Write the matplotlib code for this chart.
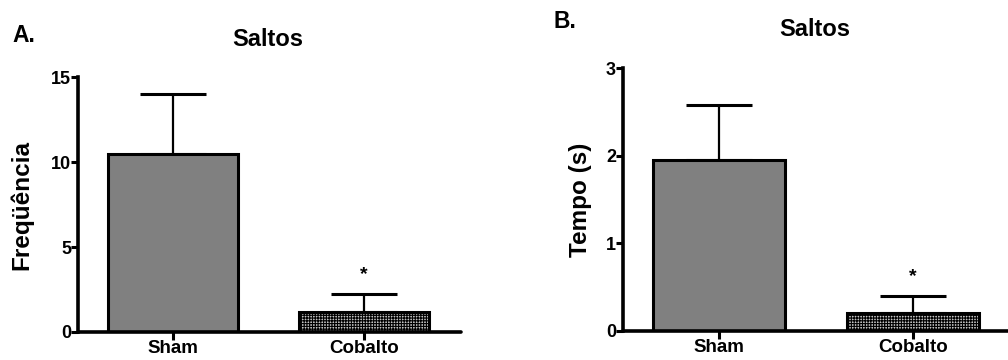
import numpy as np
import matplotlib
matplotlib.use('Agg')
import matplotlib.pyplot as plt

plt.rcParams['font.family'] = ['Liberation Sans', 'DejaVu Sans']
plt.rcParams['font.weight'] = 'bold'
plt.rcParams['axes.labelweight'] = 'bold'
plt.rcParams['hatch.linewidth'] = 0.8

grupos = ['Sham', 'Cobalto']

# A. Saltos - frequencia
freq_media = [10.5, 1.15]
freq_epm = [3.5, 1.1]

# B. Saltos - tempo (s)
tempo_media = [1.95, 0.2]
tempo_epm = [0.63, 0.2]

cor_barra = ['#808080', '#c4c4c4']
hachura = ['', '++++++']

fig = plt.figure(figsize=(10.08, 3.6), dpi=100)
ax1 = fig.add_axes([0.0774, 0.0778, 0.38, 0.708])
ax2 = fig.add_axes([0.618, 0.0806, 0.382, 0.730])


def painel(ax, media, epm, ylim, yticks, ylabel, xlim, label_x):
    x = np.arange(len(grupos))
    for i in range(len(grupos)):
        ax.bar(x[i], media[i], width=0.68, color=cor_barra[i], edgecolor='black',
               linewidth=2.2, hatch=hachura[i], zorder=2)
        ax.errorbar(x[i], media[i], yerr=[[0], [epm[i]]], fmt='none', ecolor='black',
                    elinewidth=1.6, capsize=24, capthick=2.2, zorder=1)
    # asterisco no cobalto
    ax.text(x[1], media[1] + epm[1] + (ylim[1] * 0.04), '*', ha='center', va='bottom',
            fontsize=14)
    ax.set_ylim(ylim)
    ax.set_xlim(xlim)
    ax.set_yticks(yticks)
    ax.set_xticks(x)
    ax.set_xticklabels(grupos, fontsize=13.5)
    ax.tick_params(axis='y', direction='out', length=5, width=2.2, labelsize=13, pad=0)
    ax.tick_params(axis='x', direction='out', length=6, width=2.2, pad=0)
    for lado in ['top', 'right']:
        ax.spines[lado].set_visible(False)
    for lado in ['left', 'bottom']:
        ax.spines[lado].set_linewidth(2.6)
    ax.spines['bottom'].set_capstyle('round')
    ax.set_ylabel(ylabel, fontsize=17.5, fontweight='bold')
    ax.yaxis.set_label_coords(label_x, 0.5)
    ax.set_facecolor('none')


painel(ax1, freq_media, freq_epm, (0, 15), [0, 5, 10, 15], 'Freqüência', (-0.495, 1.51), -0.117)
painel(ax2, tempo_media, tempo_epm, (0, 3), [0, 1, 2, 3], 'Tempo (s)', (-0.497, 1.49), -0.081)

fig.text(268 / 1008, 1 - 39 / 360, 'Saltos', ha='center', va='center', fontsize=17)
fig.text(815 / 1008, 1 - 30 / 360, 'Saltos', ha='center', va='center', fontsize=17)
fig.text(24 / 1008, 1 - 36 / 360, 'A.', ha='center', va='center', fontsize=16.5)
fig.text(565 / 1008, 1 - 22 / 360, 'B.', ha='center', va='center', fontsize=16.5)

fig.savefig('out.png', dpi=100)
